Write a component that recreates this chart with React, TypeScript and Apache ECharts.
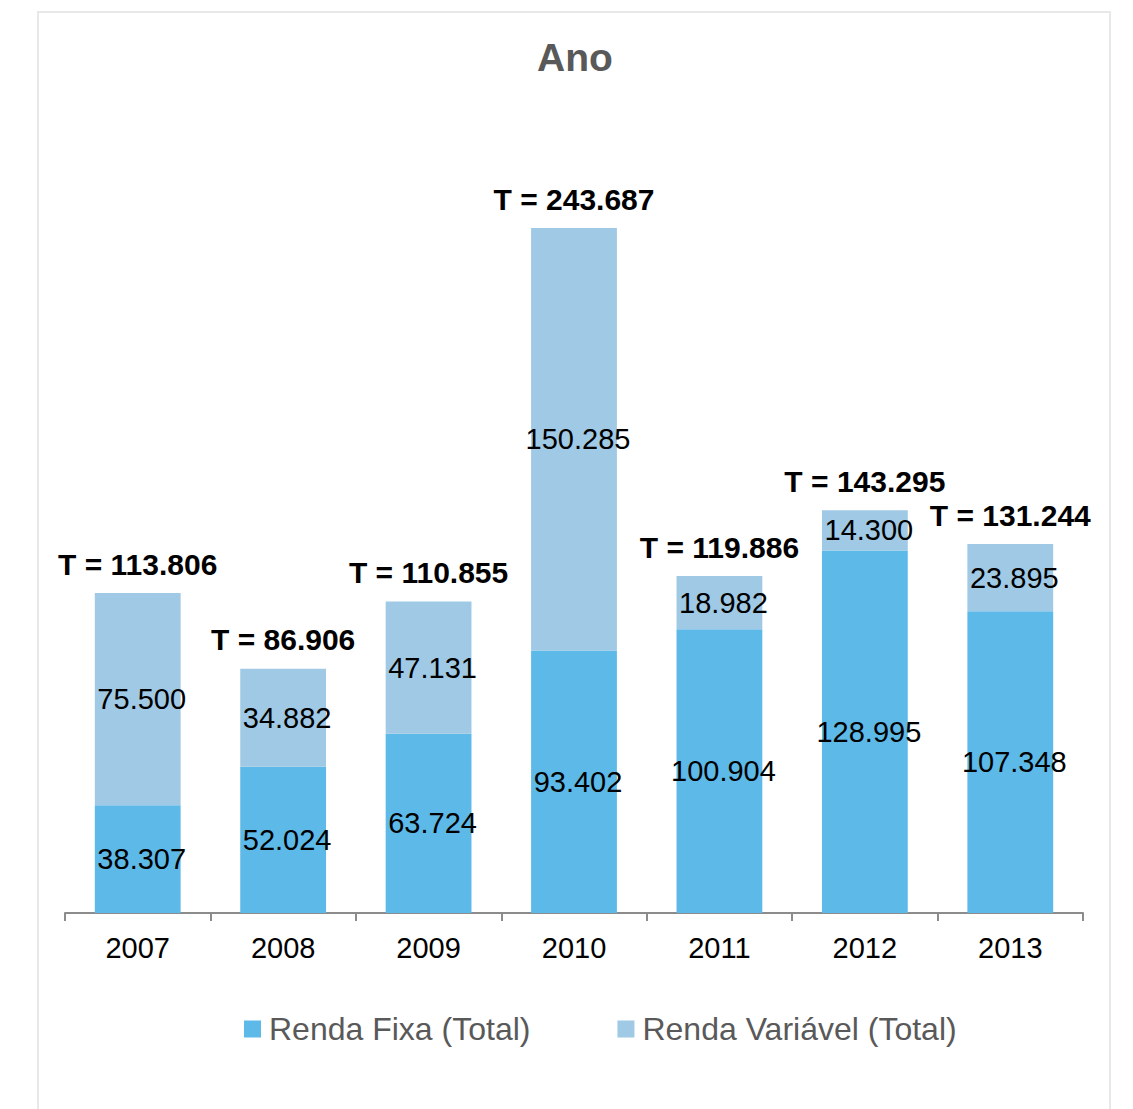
import React, { useEffect, useRef } from "react";
import * as echarts from "echarts";

const categories = ["2007", "2008", "2009", "2010", "2011", "2012", "2013"];
const rendaFixa = [38.307, 52.024, 63.724, 93.402, 100.904, 128.995, 107.348];
const rendaVariavel = [75.5, 34.882, 47.131, 150.285, 18.982, 14.3, 23.895];
const totals = [113.806, 86.906, 110.855, 243.687, 119.886, 143.295, 131.244];
const seriesNames = ["Renda Fixa (Total)", "Renda Variável (Total)"];
const titleText = "Ano";

const FONT = "'Liberation Sans', Arial, sans-serif";

const fmt = (v: number) => v.toFixed(3);

export default function App() {
  const ref = useRef<HTMLDivElement>(null);
  useEffect(() => {
    if (!ref.current) return;
    const chart = echarts.init(ref.current, null, { renderer: "svg" });
    const valueLabel = {
      show: true,
      position: "inside",
      offset: [4, 0],
      color: "#000",
      fontSize: 29,
      fontFamily: FONT,
      formatter: (p: any) => fmt(p.value),
    };
    chart.setOption({
      animation: false,
      backgroundColor: "#fff",
      graphic: [
        {
          type: "rect",
          shape: { x: 30, y: 4, width: 1072, height: 1120 },
          style: { fill: "none", stroke: "#E8E8E8", lineWidth: 2 },
          silent: true,
        },
        {
          type: "text",
          x: 567,
          y: 49,
          style: {
            text: titleText,
            fontSize: 39,
            fontWeight: "bold",
            fontFamily: FONT,
            fill: "#595959",
            textAlign: "center",
            textVerticalAlign: "middle",
          },
        },
      ],
      legend: {
        data: seriesNames,
        left: 236,
        top: 1005,
        padding: 0,
        icon: "rect",
        itemWidth: 17,
        itemHeight: 17,
        itemGap: 87,
        textStyle: {
          fontSize: 32,
          fontFamily: FONT,
          color: "#595959",
          padding: [0, 0, 0, 3],
        },
      },
      grid: { left: 57, right: 42, top: 220, bottom: 196, containLabel: false },
      xAxis: {
        type: "category",
        data: categories,
        axisLine: { lineStyle: { color: "#8C8C8C", width: 2 } },
        axisTick: { show: true, length: 8, lineStyle: { color: "#8C8C8C", width: 2 } },
        axisLabel: { color: "#000", fontSize: 29, fontFamily: FONT, margin: 20 },
      },
      yAxis: {
        type: "value",
        min: 0,
        max: 243.687,
        show: false,
        splitLine: { show: false },
      },
      series: [
        {
          name: seriesNames[0],
          type: "bar",
          stack: "total",
          barWidth: "59%",
          data: rendaFixa,
          itemStyle: { color: "#5CB9E8" },
          label: valueLabel,
        },
        {
          name: seriesNames[1],
          type: "bar",
          stack: "total",
          barWidth: "59%",
          data: rendaVariavel,
          itemStyle: { color: "#9FC9E5" },
          label: valueLabel,
        },
        {
          name: "Total",
          type: "bar",
          stack: "total",
          barWidth: "59%",
          data: totals.map(() => 0),
          itemStyle: { color: "transparent" },
          label: {
            show: true,
            position: "top",
            distance: 14,
            color: "#000",
            fontSize: 30,
            fontWeight: "bold",
            fontFamily: FONT,
            formatter: (p: any) => "T = " + fmt(totals[p.dataIndex]),
          },
        },
      ],
    });
    return () => chart.dispose();
  }, []);
  return <div ref={ref} style={{ width: 1117, height: 1101 }} />;
}
